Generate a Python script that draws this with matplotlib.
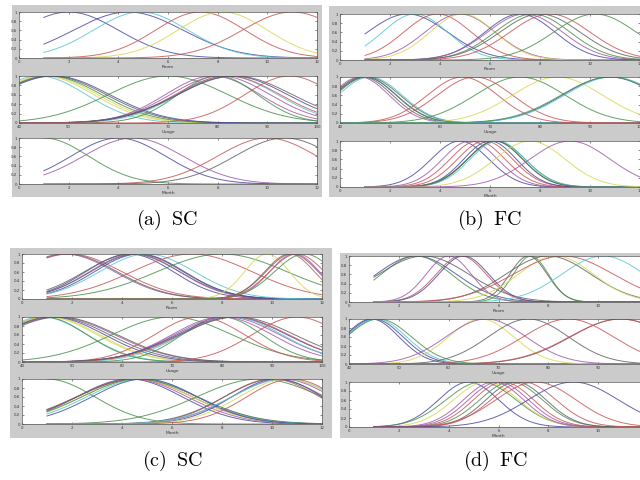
import numpy as np
import matplotlib
matplotlib.use('Agg')
import matplotlib.pyplot as plt
from matplotlib.patches import Rectangle

plt.rcParams['mathtext.fontset'] = 'cm'

# ---------------- data (Gaussian membership functions: centre, sigma, colour code) ----------------
room_ticks = [0, 2, 4, 6, 8, 10, 12]
usage_ticks = [40, 50, 60, 70, 80, 90, 100]
month_ticks = [0, 2, 4, 6, 8, 10, 12]
y_ticks = [0, 0.2, 0.4, 0.6, 0.8, 1]
y_tick_labels = ['0', '0.2', '0.4', '0.6', '0.8', '1']
var_names = ['Room', 'Usage', 'Month']
captions = ['(a)', '(b)', '(c)', '(d)']
caption_kind = ['SC', 'FC', 'SC', 'FC']

# (a) SC
a_room_c = [2.0, 4.4, 4.9, 7.3, 8.2, 11.0]
a_room_s = [2.0, 2.2, 1.9, 1.8, 1.8, 2.0]
a_room_k = "bbcryr"
a_usage_c = [44, 45, 45.5, 46, 46.5, 47, 70, 79, 80, 80.5, 82, 82, 83, 83.5, 94.5]
a_usage_s = [9.5, 10, 10.3, 10.6, 11, 11.2, 12, 9.5, 8, 10, 10, 10.5, 11, 11.5, 9]
a_usage_k = "cyygkbgmgmcrbkr"
a_month_c = [1.0, 4.0, 4.6, 10.0, 10.7]
a_month_s = [1.8, 1.9, 2.0, 2.0, 2.0]
a_month_k = "gbmrk"

# (b) FC
b_room_c = [2.7, 3.0, 3.9, 4.8, 4.9, 7.2, 7.4, 7.7, 8.0, 8.4, 10.2]
b_room_s = [1.6, 1.3, 1.35, 1.4, 1.3, 1.4, 1.5, 1.5, 1.6, 1.6, 1.65]
b_room_k = "bcrmybmgkrg"
b_usage_c = [44.0, 44.5, 45, 45, 45.5, 46, 64.5, 67, 76, 83.5, 94, 94.5, 94]
b_usage_s = [5.8, 6.0, 6.2, 6.3, 6.5, 6.4, 7, 7.5, 9, 9, 9.5, 9.6, 9.8]
b_usage_k = "mkbgkcrrgybcg"
b_month_c = [4.8, 5.2, 5.5, 5.8, 6.0, 6.2, 6.25, 6.3, 6.2, 7.6, 9.2]
b_month_s = [1.15, 1.1, 1.1, 1.1, 1.05, 1.1, 1.15, 1.1, 1.1, 1.4, 1.6]
b_month_k = "bmrrbggckym"

# (c) SC
c_room_c = [1.7, 1.8, 1.9, 4.3, 4.4, 4.5, 4.6, 4.7, 5.0, 6.8, 8.0, 9.8, 10.7, 10.8, 10.9, 11.0, 11.3]
c_room_s = [2.0, 2.0, 2.1, 1.75, 1.9, 1.8, 1.85, 1.8, 1.9, 2.4, 2.6, 0.9, 1.0, 1.05, 1.0, 1.1, 1.2]
c_room_k = "mkrbkmkbcrgyrkmrg"
c_usage_c = [44, 44.5, 45, 45.5, 46, 46.5, 47, 47.5, 70, 75.5, 80, 80, 81, 82, 82, 82.5, 83, 95]
c_usage_s = [9, 8.5, 10, 10, 10.5, 11, 11.5, 11.5, 12, 9, 8, 10, 10.5, 11, 10, 10.8, 11.5, 9]
c_usage_k = "cgyybkmkgrgmmbcrkr"
c_month_c = [1.0, 4.3, 4.4, 4.5, 4.6, 4.6, 4.7, 4.8, 4.9, 9.5, 10.0, 10.1, 10.2, 10.4, 10.5, 10.6, 10.8]
c_month_s = [1.9, 2.1, 2.2, 2.3, 2.2, 2.4, 2.3, 2.2, 2.1, 2.5, 1.9, 2.0, 1.8, 2.0, 2.1, 1.9, 1.8]
c_month_k = "gbmrykgcbgrkbmcyr"

# (d) FC
d_room_c = [2.7, 2.7, 3.0, 4.0, 4.5, 4.6, 7.2, 7.3, 8.0, 8.3, 8.6, 10.2]
d_room_s = [1.6, 1.4, 1.8, 0.9, 1.0, 1.0, 0.75, 0.7, 1.7, 1.5, 2.0, 1.65]
d_room_k = "bgkmrbkgkyrc"
d_usage_c = [44.5, 45, 45.5, 46, 66.5, 67.5, 76, 84, 94.5, 94.5]
d_usage_s = [5.5, 5.8, 6.0, 6.5, 6.5, 8, 8, 9, 10, 10.2]
d_usage_k = "bbcgymkrkr"
d_month_c = [4.8, 5.3, 5.5, 5.8, 6.0, 6.2, 6.5, 6.7, 7.0, 7.5, 9.0]
d_month_s = [1.2, 1.4, 1.3, 1.2, 1.2, 1.2, 1.25, 1.2, 1.3, 1.6, 1.8]
d_month_k = "bgymmrgkrrb"

# ---------------- styles / layout ----------------
colours = {'b': '#4a4aa0', 'g': '#4a904a', 'r': '#c85656', 'c': '#58c6d4',
           'm': '#a05aaa', 'y': '#d8d858', 'k': '#626262'}
domains = {'Room': (1, 12), 'Usage': (40, 100), 'Month': (1, 12)}
xlims = {'Room': (0, 12), 'Usage': (40, 100), 'Month': (0, 12)}
xticks = {'Room': room_ticks, 'Usage': usage_ticks, 'Month': month_ticks}

panels = [
    dict(grey=(12, 5, 322, 197), x=(19, 317), rows=[(12, 58), (76, 123), (138, 184)],
         data=[(a_room_c, a_room_s, a_room_k), (a_usage_c, a_usage_s, a_usage_k), (a_month_c, a_month_s, a_month_k)],
         cap=(167, 220)),
    dict(grey=(329, 6, 641, 197), x=(340, 640), rows=[(14, 60), (77, 123), (141, 187)],
         data=[(b_room_c, b_room_s, b_room_k), (b_usage_c, b_usage_s, b_usage_k), (b_month_c, b_month_s, b_month_k)],
         cap=(490, 220)),
    dict(grey=(10, 248, 332, 438), x=(22, 322), rows=[(254, 299), (317, 362), (379, 424)],
         data=[(c_room_c, c_room_s, c_room_k), (c_usage_c, c_usage_s, c_usage_k), (c_month_c, c_month_s, c_month_k)],
         cap=(172, 461)),
    dict(grey=(340, 253, 641, 438), x=(349, 648), rows=[(256, 302), (319, 364), (382, 427)],
         data=[(d_room_c, d_room_s, d_room_k), (d_usage_c, d_usage_s, d_usage_k), (d_month_c, d_month_s, d_month_k)],
         cap=(496, 461)),
]

W, H = 640, 480
fig = plt.figure(figsize=(6.4, 4.8), dpi=100)
fig.patch.set_facecolor('white')

for pi, p in enumerate(panels):
    gx0, gy0, gx1, gy1 = p['grey']
    fig.add_artist(Rectangle((gx0 / W, 1 - gy1 / H), (gx1 - gx0) / W, (gy1 - gy0) / H,
                             transform=fig.transFigure, facecolor='#cbcbcb', edgecolor='none', zorder=0))
    x0, x1 = p['x']
    for ri, (y0, y1) in enumerate(p['rows']):
        name = var_names[ri]
        ax = fig.add_axes([x0 / W, 1 - y1 / H, (x1 - x0) / W, (y1 - y0) / H])
        ax.set_facecolor('white')
        cs, ss, ks = p['data'][ri]
        lo, hi = domains[name]
        xs = np.linspace(lo, hi, 300)
        for c, s, k in zip(cs, ss, ks):
            ax.plot(xs, np.exp(-(xs - c) ** 2 / (2 * s ** 2)), color=colours[k], lw=0.7, alpha=0.85)
        ax.set_xlim(*xlims[name])
        ax.set_ylim(0, 1)
        ax.set_xticks(xticks[name])
        ax.set_yticks(y_ticks)
        ax.set_yticklabels(y_tick_labels)
        ax.tick_params(direction='in', length=1.5, width=0.4, labelsize=2.8, pad=1.5,
                       top=True, right=True, colors='#333333')
        ax.set_xlabel(name, fontsize=3.2, labelpad=0.5, color='#333333')
        for sp in ax.spines.values():
            sp.set_linewidth(0.5)
            sp.set_color('#555555')
    cx, cy = p['cap']
    fig.text(cx / W, 1 - cy / H, r'$\mathrm{%s}\;\;\mathrm{%s}$' % (captions[pi], caption_kind[pi]),
             ha='center', va='center', fontsize=14.5, color='black')

fig.savefig('out.png', dpi=100)
